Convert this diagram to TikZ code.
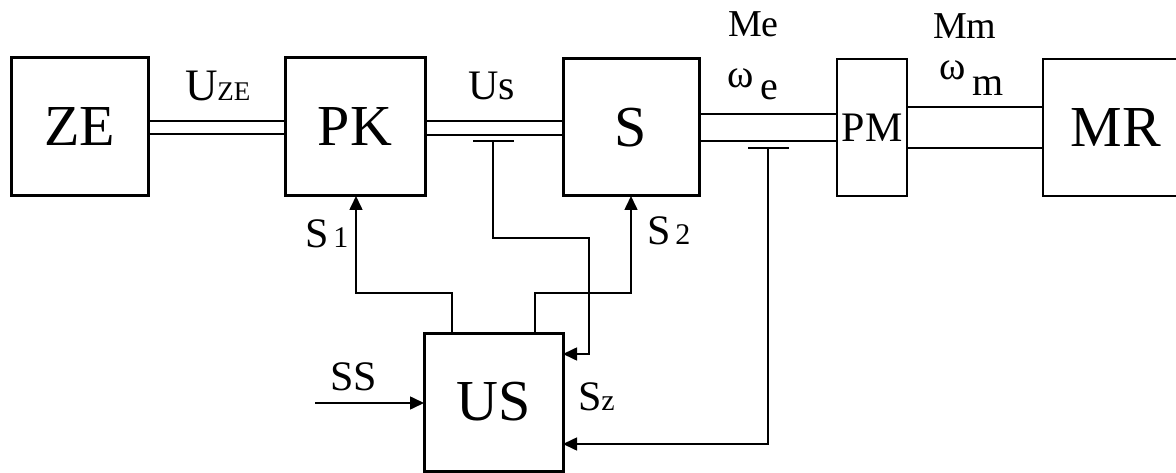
\documentclass[tikz,border=0pt]{standalone}
\usepackage{fontspec}
\setmainfont{Liberation Serif}
\usetikzlibrary{arrows.meta}
\begin{document}
\begin{tikzpicture}[x=1pt,y=-1pt,
  blk/.style={draw,line width=3pt,inner sep=0pt,outer sep=0pt,font=\rmfamily\fontsize{58}{58}\selectfont},
  dl/.style={line width=1.7pt},
  thn/.style={line width=1.4pt},
  arr/.style={line width=1.6pt,-{Triangle[length=14pt,width=13pt]}},
  lbl/.style={inner sep=0pt,outer sep=0pt,anchor=base west,font=\rmfamily\fontsize{42}{42}\selectfont}]
\useasboundingbox (0,0) rectangle (1176,473);
% blocks
\node[blk,minimum width=137pt,minimum height=138pt] (ZE) at (79.5,127) {ZE};
\node[blk,minimum width=140pt,minimum height=138pt] (PK) at (355,127) {PK};
\node[blk,minimum width=136pt,minimum height=137pt] (S) at (631,127.5) {S};
\node[blk,line width=2.5pt,minimum width=70pt,minimum height=137pt,font=\rmfamily\fontsize{42}{42}\selectfont] (PM) at (872,127.5) {PM};
\node[blk,line width=2.5pt,minimum width=146pt,minimum height=137pt] (MR) at (1116,127.5) {MR};
\node[blk,minimum width=139pt,minimum height=138pt] (US) at (493.5,402) {US};
% double lines
\draw[dl] (ZE.east |- 0,121) -- (PK.west |- 0,121);
\draw[dl] (ZE.east |- 0,134) -- (PK.west |- 0,134);
\draw[dl] (PK.east |- 0,121) -- (S.west |- 0,121);
\draw[dl] (PK.east |- 0,135) -- (S.west |- 0,135);
\draw[dl] (S.east |- 0,114) -- (PM.west |- 0,114);
\draw[dl] (S.east |- 0,141) -- (PM.west |- 0,141);
\draw[thn] (PM.east |- 0,107) -- (MR.west |- 0,107);
\draw[thn] (PM.east |- 0,148) -- (MR.west |- 0,148);
% T taps
\coordinate (tUs) at (493,141);
\coordinate (tUsL) at (473,141);
\coordinate (tUsR) at (514,141);
\coordinate (tMe) at (768,148);
\coordinate (tMeL) at (748,148);
\coordinate (tMeR) at (789,148);
\draw[thn] (tUsL) -- (tUsR);
\draw[thn] (tMeL) -- (tMeR);
% control connections
\draw[arr] (US.north -| 452,0) -- (452,293) -| (PK.south -| 356,0);
\draw[arr] (US.north -| 535,0) -- (535,293) -| (S.south -| 631,0);
\draw[arr] (tUs) -- (493,238) -| (589,354) -- (US.east |- 0,354);
\draw[arr] (tMe) |- (US.east |- 0,444);
\coordinate (ssin) at (315,403);
\draw[arr] (ssin) -- (US.west |- 0,403);
% labels
\node[lbl,font=\rmfamily\fontsize{45}{45}\selectfont] (lUze) at (185,101) {U\fontsize{27}{27}\selectfont ZE};
\node[lbl] (lUs) at (468,100) {Us};
\node[lbl,font=\rmfamily\fontsize{38}{38}\selectfont] (lMe) at (728,37) {Me};
\node[lbl,font=\rmfamily\fontsize{40}{40}\selectfont] (lwe) at (727,88) {ω\raisebox{-12pt}{\,e}};
\node[lbl,font=\rmfamily\fontsize{38}{38}\selectfont] (lMm) at (933,39) {Mm};
\node[lbl,font=\rmfamily\fontsize{40}{40}\selectfont] (lwm) at (939,80) {ω\raisebox{-16pt}{\,m}};
\node[lbl] (lS1) at (305,248) {S\fontsize{30}{30}\selectfont\,1};
\node[lbl] (lS2) at (647,245) {S\fontsize{30}{30}\selectfont\,2};
\node[lbl] (lSS) at (330,390) {SS};
\node[lbl] (lSz) at (578,410) {S\fontsize{30}{30}\selectfont z};
\end{tikzpicture}
\end{document}
